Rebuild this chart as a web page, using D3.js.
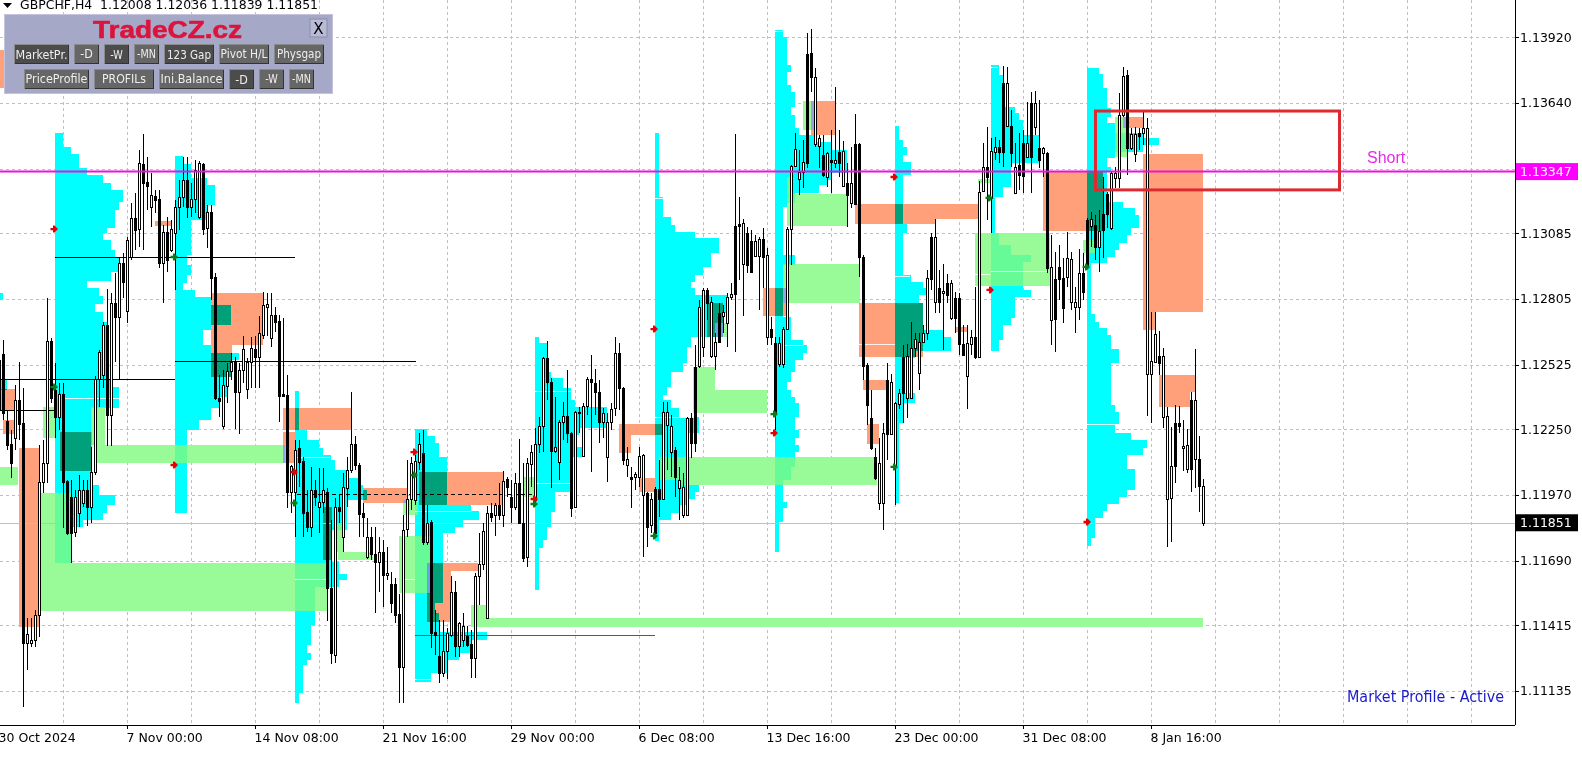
<!DOCTYPE html>
<html><head><meta charset="utf-8">
<script src="https://cdn.jsdelivr.net/npm/d3@7/dist/d3.min.js"></script>
<style>html,body{margin:0;padding:0;background:#fff;overflow:hidden}svg{display:block}text{font-family:"DejaVu Sans",sans-serif}</style>
</head><body><svg id="c" width="1582" height="758"></svg>
<script>
// ---- all price values are in points above 1.10000 (1 point = 0.00001)
const barDirection = "BBBBWBBWWWWWWBBWBBBWWWBWWWWBWBWBWWBWBBWBBWBWWWWBWWWBWBBBWWWBWWWWBWWWWBBBBWWBBBWBWWBBWBWWWBBBWBBWBWBBBWWWWWBWBBBWWWBWWBBWWWWBWBWBBWBBWWWWWBBWWWBBWWWWBBBWWWWBBWBWWWBWBBWWWBWWWBBWWBWWBWWWBBWBBWWBWBBWWWWWWWBBWWBWBWBWBWBBBBBBWWBWWWBWWWWWWBWBWBWBBBWWBWWBWWBBWBWBBWBWBWBWBBBWWWWBBWBWBBWWWWBWWBWWWWBWWWBBWWBWBWBB";
const highPts=[2608,2630,2331,2246,2438,2536,2425,1445,1445,1479,2182,2204,2808,2638,2532,2446,2446,2033,2033,1991,2054,2033,2033,2174,2476,2587,2706,2847,2830,2915,2983,3000,3068,3213,3256,3439,3507,3409,3341,3269,3269,3120,3154,3141,3226,3311,3409,3409,3298,3396,3392,3384,3205,3205,2915,2480,2502,2532,2574,2557,2532,2647,2553,2642,2647,2732,2834,2830,2830,2770,2736,2723,2480,2097,2204,2204,2131,1991,2089,2033,2084,2084,1999,1863,1956,1969,2063,2131,2408,2221,2106,1935,1871,1833,1833,1790,1778,1748,1641,1616,1548,1884,2118,2131,2140,2233,2246,1927,1863,1479,1437,1437,1403,1624,1603,1428,1467,1411,1394,1637,1807,1850,1922,1935,1935,2020,2072,2046,2033,2063,2208,2106,2127,2182,2255,2302,2557,2625,2468,2387,2289,2365,2502,2238,2327,2344,2361,2472,2566,2506,2459,2340,2319,2361,2642,2617,2429,2174,2089,2067,2174,2144,1982,1978,2003,2118,2365,2365,2310,2174,2089,2063,2302,2319,2608,2800,2851,2851,2813,2659,2787,2779,2830,2872,3507,3239,3145,3111,3098,3077,3068,3107,3022,2728,2642,2642,2685,3111,3375,3511,3439,3482,3937,3954,3788,3503,3503,3430,3524,3707,3524,3477,3384,3452,3592,3469,2992,2532,2417,2170,2212,2276,2532,2485,2365,2421,2608,2613,2706,2659,2659,2693,2928,3085,3145,2928,2953,2911,2885,2834,2830,2693,2693,2672,2855,3307,3469,3537,3490,3494,3482,3797,3793,3609,3469,3511,3524,3643,3686,3690,3652,3452,3430,3077,3004,3034,2979,3090,3004,2855,3017,3000,3149,3175,3162,3183,3324,3260,3345,3367,3682,3793,3780,3533,3537,3533,3601,3575,2749,2749,2668,2596,2344,2259,2353,2348,2289,2250,2408,2591,2221,2037];
const bodyTopPts=[2544,2570,2285,2187,2374,2374,2276,1377,1352,1458,2025,2106,2625,2625,2417,2400,2400,2029,1961,1961,1991,1991,1991,2067,2463,2578,2693,2693,2787,2787,2958,2958,3056,3149,3149,3384,3379,3303,3247,3243,3230,3090,3090,3102,3196,3239,3311,3311,3230,3354,3384,3379,3175,3175,2898,2382,2438,2498,2536,2536,2502,2591,2536,2596,2591,2659,2779,2783,2736,2736,2711,2400,2395,2093,2161,2170,2114,1897,1991,1991,1939,1991,1982,1573,1918,1918,2003,2076,2187,2187,2097,1893,1790,1790,1718,1726,1726,1637,1590,1590,1462,1820,1952,2106,2114,2187,2148,1850,1854,1386,1283,1305,1381,1556,1556,1424,1411,1369,1335,1624,1675,1816,1893,1893,1927,1927,2029,2037,1961,2020,2020,1850,2106,2152,2187,2263,2553,2553,2451,2174,2280,2306,2306,2233,2323,2323,2348,2463,2463,2446,2408,2319,2280,2336,2574,2574,2425,2123,2046,2059,2135,2140,1978,1952,1995,1995,2323,2323,2263,2161,2033,2003,2297,2297,2515,2770,2843,2843,2791,2621,2745,2749,2813,2826,3115,3124,3128,3085,3051,3051,3060,3060,2992,2676,2617,2617,2676,3102,3371,3443,3345,3388,3848,3852,3750,3490,3418,3426,3396,3396,3430,3435,3298,3298,3465,3465,2983,2523,2297,2131,2106,2233,2459,2451,2361,2404,2557,2561,2596,2634,2621,2659,2894,3068,3068,2851,2838,2872,2872,2808,2808,2613,2617,2642,2642,3260,3367,3367,3435,3452,3452,3724,3724,3541,3367,3375,3469,3469,3639,3639,3448,3448,3426,2941,2889,2941,2894,2979,2975,2791,2915,2915,3141,3145,3120,3094,3166,3252,3341,3341,3588,3754,3758,3507,3507,3511,3533,3533,2540,2655,2561,2561,2306,2093,2276,2276,2178,2182,2374,2374,2123,2008];
const bodyBottomPts=[2331,2319,2182,2106,2212,2272,1339,1339,1339,1352,1458,2025,2106,2382,2302,2302,2025,1807,1807,1812,1893,1935,1918,1918,2067,2463,2480,2310,2310,2728,2728,2877,2753,2983,3098,3102,3298,3286,3196,3226,2958,2958,2970,3013,3085,3196,3239,3196,3196,3230,3154,3102,3107,2894,2382,2370,2263,2434,2498,2408,2408,2502,2421,2536,2557,2557,2651,2770,2638,2706,2391,2391,1982,1982,1982,2110,1893,1833,1833,1961,1918,1939,1573,1296,1288,1901,1790,1999,2076,2097,1888,1876,1705,1718,1684,1684,1628,1628,1509,1458,1237,1237,1825,1952,1948,2110,1769,1769,1381,1373,1211,1211,1305,1373,1326,1326,1352,1330,1275,1275,1624,1675,1445,1876,1884,1884,1884,2003,1918,1918,1850,1701,1705,2101,1948,2187,2263,2451,2157,2157,2110,2280,2233,1914,1918,2319,2135,2348,2451,2408,2280,2280,2131,2280,2340,2425,2118,2097,2037,2046,2046,1969,1833,1842,1807,1952,1952,2268,2152,2046,1999,1884,1884,2191,2191,2519,2600,2787,2561,2561,2621,2732,2702,2813,2826,3115,2953,2949,2919,2987,2987,2983,2642,2642,2319,2527,2527,2676,3102,3371,3315,3345,3384,3750,3465,3456,3332,3324,3388,3384,3384,3286,3247,3213,3209,2983,2519,2353,2170,2042,1935,1935,2229,2229,2093,2357,2404,2382,2382,2596,2489,2621,2659,2889,2791,2791,2830,2821,2723,2723,2613,2566,2476,2613,2557,2557,3264,3324,3234,3430,3430,3430,3541,3426,3256,3332,3328,3409,3409,3537,3396,3426,2936,2715,2719,2889,2766,2898,2791,2770,2770,2834,2941,3115,3026,3026,3098,3166,3107,3320,3320,3588,3448,3448,3422,3499,3511,2485,2485,2536,2532,2302,1952,1956,2093,2263,2170,2080,2080,2123,2008,1850];
const lowPts=[2289,2289,2161,2042,2161,2204,1066,1224,1322,1322,1364,1978,2020,2361,2212,2246,1829,1799,1680,1790,1833,1918,1837,1850,2054,2344,2425,2178,2178,2536,2463,2808,2702,2970,3013,3026,3013,3183,3111,3171,2936,2787,2919,3004,2843,3098,3196,3149,3154,3171,3145,3077,3022,2800,2374,2302,2250,2361,2459,2250,2229,2446,2378,2425,2425,2425,2634,2647,2600,2664,2280,2387,1914,1893,1790,2003,1790,1812,1790,1922,1807,1893,1433,1249,1254,1850,1726,1918,2063,2076,1790,1790,1697,1692,1467,1556,1492,1607,1467,1424,1083,1083,1790,1905,1927,2076,1756,1756,1318,1288,1168,1194,1185,1364,1279,1279,1322,1322,1190,1190,1501,1650,1441,1854,1795,1863,1833,1961,1850,1905,1846,1684,1663,2003,1935,2148,2152,2374,1999,2148,2033,2204,2191,1876,1914,2233,2131,2310,2067,2310,2191,2212,2025,2246,2306,2331,2097,2046,1914,1991,2003,1705,1748,1807,1799,1876,1948,2076,2046,1961,1863,1871,1880,2127,2152,2510,2557,2715,2553,2502,2617,2659,2600,2800,2578,2885,2732,2915,2915,2983,2757,2851,2608,2608,2246,2515,2510,2672,2949,3367,3247,3277,3362,3686,3452,3362,3324,3281,3256,3362,3324,3281,3111,3192,3205,2898,2459,2268,2161,2033,1905,1820,2118,2225,1927,2336,2276,2297,2378,2557,2417,2617,2630,2843,2745,2745,2587,2787,2715,2659,2566,2561,2336,2566,2549,2553,3260,3141,3085,3396,3384,3367,3537,3367,3252,3269,3256,3405,3256,3503,3362,3324,2915,2608,2578,2800,2702,2855,2757,2659,2715,2800,2936,3026,2970,2919,2979,3107,3098,3277,3277,3580,3332,3439,3388,3439,3460,2306,2276,2532,2480,2255,1748,1769,2020,2233,2071,2063,1982,1999,1897,1837];

// market profiles: row boundaries (points) and time-count of each row
const profileStartBars=[0,14,44,74,104,134,164,194,224,248,272];
const p0Levels=[2830,2800,2459,2417];
const p0Counts=[1,0,2];
const p1Levels=[3511,3452,3422,3362,3332,3298,3269,3218,3183,3107,3085,3056,3013,2979,2919,2881,2851,2817,2783,2749,2706,2459,2429,2340,2246,2012,1969,1927,1893,1863,1833,1680];
const p1Counts=[2,4,6,8,12,14,17,16,15,13,12,14,15,16,14,8,11,12,10,12,13,14,16,9,9,11,15,13,12,7,4];
const p2Levels=[3413,3379,3320,3290,3205,3141,2992,2949,2906,2872,2843,2813,2779,2693,2672,2608,2574,2544,2472,2387,2340,2289,2246,1893];
const p2Counts=[2,4,8,10,8,4,3,4,3,2,5,9,14,9,7,9,16,14,13,11,9,6,3];
const p3Levels=[2412,2246,2204,2170,2140,2118,2076,2042,2012,1991,1948,1820,1684,1633,1607,1577,1416,1330,1296,1266,1245,1126,1083];
const p3Counts=[1,3,6,7,9,10,13,16,17,18,13,9,11,13,11,5,4,3,4,3,2,1];
const p4Levels=[2250,2221,2191,2131,1927,1901,1863,1833,1807,1509,1467,1386,1352,1296,1266,1211,1173];
const p4Counts=[3,5,6,8,14,16,12,10,7,5,6,18,14,11,8,4];
const p5Levels=[2642,2617,2493,2468,2425,2374,2344,2255,2225,2174,2131,1982,1897,1863,1833,1778,1743,1565];
const p5Counts=[1,3,4,7,9,10,18,11,10,12,9,5,4,4,3,2,1];
const p6Levels=[3511,3239,3154,3120,3090,3064,3000,2941,2906,2877,2851,2821,2745,2642,2600,2532,2493,2429,2395,2374,2340,2302,2233,2012,1982,1952,1927,1893,1863,1807,1773];
const p6Counts=[1,2,4,5,10,16,14,12,10,9,10,18,17,9,8,7,4,3,2,4,6,11,8,11,10,8,6,4,1,1];
const p7Levels=[3950,3920,3801,3771,3716,3686,3622,3588,3533,3503,3473,3439,3341,3311,3290,3256,3213,3196,2992,2949,2728,2693,2630,2608,2574,2544,2493,2451,2417,2387,2361,2302,2246,2212,2182,2152,2089,2033,1939,1914,1854,1726];
const p7Counts=[2,3,4,3,4,5,4,5,6,10,14,18,14,13,11,5,3,2,5,2,4,4,7,8,7,5,4,3,4,5,6,5,6,5,6,5,4,2,3,2,1];
const p8Levels=[3541,3482,3452,3418,3388,3332,3124,3085,2906,2877,2851,2821,2787,2672,2642,2583,2553,2404,2361,2276,2246,1935];
const p8Counts=[1,2,3,2,4,2,3,2,4,7,8,6,7,12,14,5,2,5,2,1,1];
const p9Levels=[3801,3758,3622,3597,3567,3503,3384,3281,3239,3085,3034,2992,2962,2843,2813,2723,2693,2630,2583];
const p9Counts=[2,3,6,7,8,12,5,3,1,2,5,10,8,10,6,5,3,2];
const p10Levels=[3788,3763,3703,3618,3580,3554,3511,3490,3460,3430,3405,3367,3345,3218,3192,3162,3107,3077,3043,3013,2983,2958,2740,2706,2681,2651,2591,2532,2353,2323,2272,2233,2204,2170,2140,2080,1991,1961,1931,1901,1871,1786,1752];
const p10Counts=[3,4,5,6,5,7,14,18,14,7,5,6,5,9,12,13,11,10,8,7,5,1,2,3,5,6,8,6,7,8,7,11,15,14,10,12,10,8,5,4,2,1];
const profileLevels=[p0Levels,p1Levels,p2Levels,p3Levels,p4Levels,p5Levels,p6Levels,p7Levels,p8Levels,p9Levels,p10Levels];
const profileCounts=[p0Counts,p1Counts,p2Counts,p3Counts,p4Counts,p5Counts,p6Counts,p7Counts,p8Counts,p9Counts,p10Counts];

// supply / demand zones
const orangeStart=[5,15.25,0,1,0,39,53,53,71,71,91,81,105,107,107,155,155,160,177,191,203,214,234,215,216,217,239,261,281,286,286,290,290];
const orangeEnd=[10,23.25,4,3.75,1.25,43.25,66,58.25,88,74,102,83.25,126,119.75,113,165.75,158,164,181,196.75,209,234,244.75,231,222,220,242,276,286,301,289,299,297.75];
const orangeTop=[2169,2238,2421,2289,3865,3136,2830,2608,2340,2238,1999,1918,2067,1680,1646,2272,2225,2042,2787,2851,3648,3209,3209,2787,2459,2272,2685,3345,3580,3422,2749,2480,2408];
const orangeBottom=[1407,2072,2331,2229,3703,3115,2608,2472,2246,2106,1935,1692,1927,1646,1428,2225,2148,1982,2642,2732,3503,3124,3145,2557,2417,2187,2664,3094,3533,2749,2672,2408,2344];
const greenStart=[10.25,24,0,10.25,11,23,84.75,84.5,100,101,118,121.75,131,173.5,179,170.25,165,179,196,197,197,201,244,244.75,271,279];
const greenEnd=[82,71.5,4.75,18.25,14,26.5,93.5,86,107.75,104.75,121.75,301,134,179,192,219.5,170.25,182,215.25,212,198.5,203.75,262.75,247.75,274,282];
const greenTop=[1680,2182,2089,1978,2344,2344,1726,1850,1795,1948,1501,1445,2046,2515,2417,2131,2131,2702,2953,3252,3324,3648,3085,3315,3056,3580];
const greenBottom=[1475,2106,2012,1680,2212,2182,1692,1726,1552,1884,1407,1407,1961,2319,2319,2012,2033,2642,2787,3115,3252,3524,2860,3298,3000,3409];

// point-of-control lines inside the profiles
const pocStart=[16,74,74.5,134,134.5,104,164,194,248,248,244,224,196.5,104,101,215,226,164,272];
const pocEnd=[30,82,82.75,143,142.75,118,174.5,196,249.75,262,247.75,227.75,201,108.25,104,224,229,166,280];
const pocPts=[2382,1611,2131,2412,2020,1901,2302,3946,3793,2923,2911,2902,2608,1185,1611,2613,2361,3235,2272];

// horizontal level lines
const levelStart=[14,0,44,0];
const levelEnd=[74,44,104.25,14];
const levelPts=[2983,2463,2540,2331];
const dashedLevel=[74.5,134,1974];
const purpleLevel=[104,164,1373];

// signal arrows
const arrowBars=[13.25,13.25,43.25,43.25,73.25,73.25,103.25,103.25,133.25,133.25,163.25,163.25,193.25,193.25,223.25,223.25,247,247.25,271.25,271.5];
const arrowPts=[3102,2429,2983,2097,2067,1935,2152,2054,1952,1931,2676,1795,2233,2314,3324,2089,3235,2843,2941,1854];
const arrowKinds="RGGRRGRGRGRGRGRGGRGR";

// axes
const priceTicks=[1.1392,1.1364,1.1336,1.13085,1.12805,1.12525,1.1225,1.1197,1.1169,1.11415,1.11135];
const timeLabels=["30 Oct 2024","7 Nov 00:00","14 Nov 08:00","21 Nov 16:00","29 Nov 00:00","6 Dec 08:00","13 Dec 16:00","23 Dec 00:00","31 Dec 08:00","8 Jan 16:00"];
const lastPrice=1.11851, shortPrice=1.13347;
const shortBox=[274,335,1.13605,1.13269];

const headerText="GBPCHF,H4  1.12008 1.12036 1.11839 1.11851";
const buttonsRow1=["MarketPr.","-D","-W","-MN","123 Gap","Pivot H/L","Physgap"];
const buttonsRow2=["PriceProfile","PROFILs","Ini.Balance","-D","-W","-MN"];
const pressedRow1=[1,0,1,0,1,0,0], pressedRow2=[0,0,0,1,0,0];

// ---------------------------------------------------------------
const W=1515,H=725;
const toPrice=p=>1.1+p/1e5;
const y=d3.scaleLinear().domain([1.14078,1.109895]).range([0,H]);
const x=d3.scaleLinear().domain([0,1]).range([-0.5,3.5]);
const edge=b=>x(b)-0.5;
const yp=p=>y(toPrice(p));
const svg=d3.select("#c");
const opens=barDirection.split("").map((d,i)=>toPrice(d==="W"?bodyBottomPts[i]:bodyTopPts[i]));
const closes=barDirection.split("").map((d,i)=>toPrice(d==="W"?bodyTopPts[i]:bodyBottomPts[i]));
const highs=highPts.map(toPrice), lows=lowPts.map(toPrice);

// grid
const gridG=svg.append("g").attr("stroke","#c0c0c0").attr("stroke-dasharray","3,3").attr("shape-rendering","crispEdges");
gridG.selectAll("line.h").data(priceTicks).join("line").attr("x1",0).attr("x2",W).attr("y1",d=>Math.round(y(d))+0.5).attr("y2",d=>Math.round(y(d))+0.5);
gridG.selectAll("line.v").data(d3.range(16,23*16+1,16)).join("line").attr("x1",d=>x(d)).attr("x2",d=>x(d)).attr("y1",0).attr("y2",H);

// filled zones: XOR-like overlap of background objects
const fills=svg.append("g").style("isolation","isolate").style("filter","invert(100%)").attr("shape-rendering","crispEdges");
const blendRect=(s,c)=>fills.append("rect").attr("x",s.x).attr("y",s.y).attr("width",s.w).attr("height",s.h).attr("fill",c).style("mix-blend-mode","difference");
profileStartBars.forEach((b,k)=>{
  const lv=profileLevels[k];
  profileCounts[k].forEach((c,r)=>{ if(c>0) blendRect({x:edge(b),y:yp(lv[r]),w:x(c)-x(0),h:yp(lv[r+1])-yp(lv[r])},"#ff0000"); });
});
orangeStart.forEach((b,i)=>blendRect({x:edge(b),y:yp(orangeTop[i]),w:edge(orangeEnd[i])-edge(b),h:yp(orangeBottom[i])-yp(orangeTop[i])},"#005f85"));
greenStart.forEach((b,i)=>blendRect({x:edge(b),y:yp(greenTop[i]),w:edge(greenEnd[i])-edge(b),h:yp(greenBottom[i])-yp(greenTop[i])},"#670467"));

// POC lines
svg.append("g").attr("stroke","#fff").attr("stroke-opacity",.85).attr("shape-rendering","crispEdges")
 .selectAll("line").data(pocPts).join("line").attr("x1",(d,i)=>edge(pocStart[i])).attr("x2",(d,i)=>edge(pocEnd[i])).attr("y1",d=>Math.round(yp(d))+.5).attr("y2",d=>Math.round(yp(d))+.5);

// level lines
const lv=svg.append("g").attr("shape-rendering","crispEdges");
lv.selectAll("line").data(levelPts).join("line").attr("stroke","#000").attr("x1",(d,i)=>edge(levelStart[i])).attr("x2",(d,i)=>edge(levelEnd[i])).attr("y1",d=>Math.round(yp(d))+.5).attr("y2",d=>Math.round(yp(d))+.5);
const ln=(a,c,dash)=>svg.append("line").attr("shape-rendering","crispEdges").attr("stroke",c).attr("stroke-dasharray",dash||null).attr("x1",edge(a[0])).attr("x2",edge(a[1])).attr("y1",Math.round(yp(a[2]))+.5).attr("y2",Math.round(yp(a[2]))+.5);
ln(dashedLevel,"#000","4,3"); ln(purpleLevel,"#a020c0");

// current price line
svg.append("line").attr("x1",0).attr("x2",W).attr("y1",Math.round(y(lastPrice))+.5).attr("y2",Math.round(y(lastPrice))+.5).attr("stroke","#c0c0c0").attr("shape-rendering","crispEdges");

// candles
const candles=svg.append("g").attr("shape-rendering","crispEdges");
highs.forEach((h,i)=>{
  const cx=x(i),up=closes[i]>=opens[i],t=y(Math.max(opens[i],closes[i])),b=y(Math.min(opens[i],closes[i]));
  candles.append("line").attr("x1",cx).attr("x2",cx).attr("y1",y(h)).attr("y2",y(lows[i])).attr("stroke","#000");
  candles.append("rect").attr("x",cx-1).attr("width",2).attr("y",Math.round(t)+.5).attr("height",Math.max(1,Math.round(b-t))).attr("fill",up?"#fff":"#000").attr("stroke","#000");
});

// arrows
const ag=svg.append("g");
arrowPts.forEach((p,i)=>{
  const ax=x(arrowBars[i])+2, ay=yp(p), col=arrowKinds[i]==="R"?"#e60000":"#0c7a1a";
  ag.append("path").attr("transform",`translate(${ax},${ay})`).attr("d","M-4,-1.2H0V-3.5L3.5,0L0,3.5V1.2H-4Z M-1.5,-3.5H0V3.5H-1.5Z").attr("fill",col);
});

// short line and box
svg.append("line").attr("x1",0).attr("x2",W).attr("y1",y(shortPrice)).attr("y2",y(shortPrice)).attr("stroke","#ee11dd").attr("stroke-width",2);
svg.append("rect").attr("x",x(shortBox[0])).attr("y",y(shortBox[2])).attr("width",x(shortBox[1])-x(shortBox[0])).attr("height",y(shortBox[3])-y(shortBox[2])).attr("fill","none").attr("stroke","#dc2a30").attr("stroke-width",3);
svg.append("text").attr("x",1367).attr("y",163).attr("fill","#e62be6").style("font-family","'Liberation Sans'").style("font-size","16px").text("Short");
svg.append("text").attr("x",1347).attr("y",702).attr("fill","#1a1acc").style("font-size","15px").attr("textLength",157).attr("lengthAdjust","spacingAndGlyphs").text("Market Profile  -  Active");

// axes
const ax=svg.append("g").attr("shape-rendering","crispEdges").attr("stroke","#000");
ax.append("line").attr("x1",0).attr("x2",W).attr("y1",H+.5).attr("y2",H+.5);
ax.append("line").attr("x1",W+.5).attr("x2",W+.5).attr("y1",0).attr("y2",H);
ax.selectAll("line.t").data(priceTicks).join("line").attr("class","t").attr("x1",W).attr("x2",W+4).attr("y1",d=>Math.round(y(d))+.5).attr("y2",d=>Math.round(y(d))+.5);
ax.selectAll("line.b").data(timeLabels).join("line").attr("class","b").attr("x1",(d,i)=>x(i*32)).attr("x2",(d,i)=>x(i*32)).attr("y1",H).attr("y2",H+4);
const fs="12.5px";
svg.append("g").selectAll("text").data(priceTicks).join("text").attr("x",W+5).attr("y",d=>y(d)+4.5).style("font-size",fs).attr("fill","#000").text(d=>d.toFixed(5));
svg.append("g").selectAll("text").data(timeLabels).join("text").attr("x",(d,i)=>x(i*32)-1).attr("y",H+17).style("font-size",fs).attr("fill","#000").text(d=>d);
const box=(p,c)=>{const yy=y(p);svg.append("rect").attr("x",W+1).attr("y",yy-8.5).attr("width",62).attr("height",17).attr("fill",c);
 svg.append("text").attr("x",W+5).attr("y",yy+4.5).attr("fill","#fff").style("font-size",fs).text(p.toFixed(5));};
box(shortPrice,"#ff00ff"); box(lastPrice,"#000");

// header
svg.append("path").attr("d","M3,3H12L7.5,8Z").attr("fill","#000");
svg.append("text").attr("x",20).attr("y",9).style("font-size",fs).style("white-space","pre").attr("xml:space","preserve").attr("textLength",298).attr("lengthAdjust","spacingAndGlyphs").attr("fill","#000").text(headerText);

// panel
const P=svg.append("g");
P.append("rect").attr("x",4).attr("y",14).attr("width",329).attr("height",80).attr("fill","#a6a8c8");
P.append("rect").attr("x",4.5).attr("y",14.5).attr("width",328).attr("height",79).attr("fill","none").attr("stroke","#c3c4dc");
P.append("text").attr("x",93).attr("y",38).attr("fill","#dc143c").style("font-family","'Liberation Sans'").style("font-weight","bold").style("font-size","24px").attr("stroke","#dc143c").attr("stroke-width",.6).attr("textLength",149).attr("lengthAdjust","spacingAndGlyphs").text("TradeCZ.cz");
P.append("rect").attr("x",310).attr("y",19).attr("width",17).attr("height",18).attr("fill","#b8bad6").attr("stroke","#8c8ea8");
P.append("text").attr("x",318.5).attr("y",34).attr("text-anchor","middle").style("font-size","15px").attr("fill","#000").text("X");
const row1x=[14,74,104,134,164,219,274],row1w=[55,25,25,25,50,50,50];
const row2x=[24,94,159,229,259,289],row2w=[65,60,65,25,25,25];
const drawButtons=(labels,xs,ws,pressed,yy)=>labels.forEach((t,i)=>{
  P.append("rect").attr("x",xs[i]).attr("y",yy).attr("width",ws[i]).attr("height",20).attr("fill","#8a8a8a");
  P.append("rect").attr("x",xs[i]+(pressed[i]?1:1)).attr("y",yy+(pressed[i]?1:1)).attr("width",ws[i]-1).attr("height",19).attr("fill","#333");
  P.append("rect").attr("x",xs[i]+1).attr("y",yy+1).attr("width",ws[i]-2).attr("height",18).attr("fill",pressed[i]?"#4c4c4c":"#666");
  P.append("text").attr("x",xs[i]+ws[i]/2).attr("y",yy+14+(pressed[i]?1:0)).attr("text-anchor","middle").attr("fill","#eee").style("font-size","12px").attr("textLength",Math.min(ws[i]-3,t.length*6.3)).attr("lengthAdjust","spacingAndGlyphs").text(t);
});
drawButtons(buttonsRow1,row1x,row1w,pressedRow1,44);
drawButtons(buttonsRow2,row2x,row2w,pressedRow2,69);
</script></body></html>
